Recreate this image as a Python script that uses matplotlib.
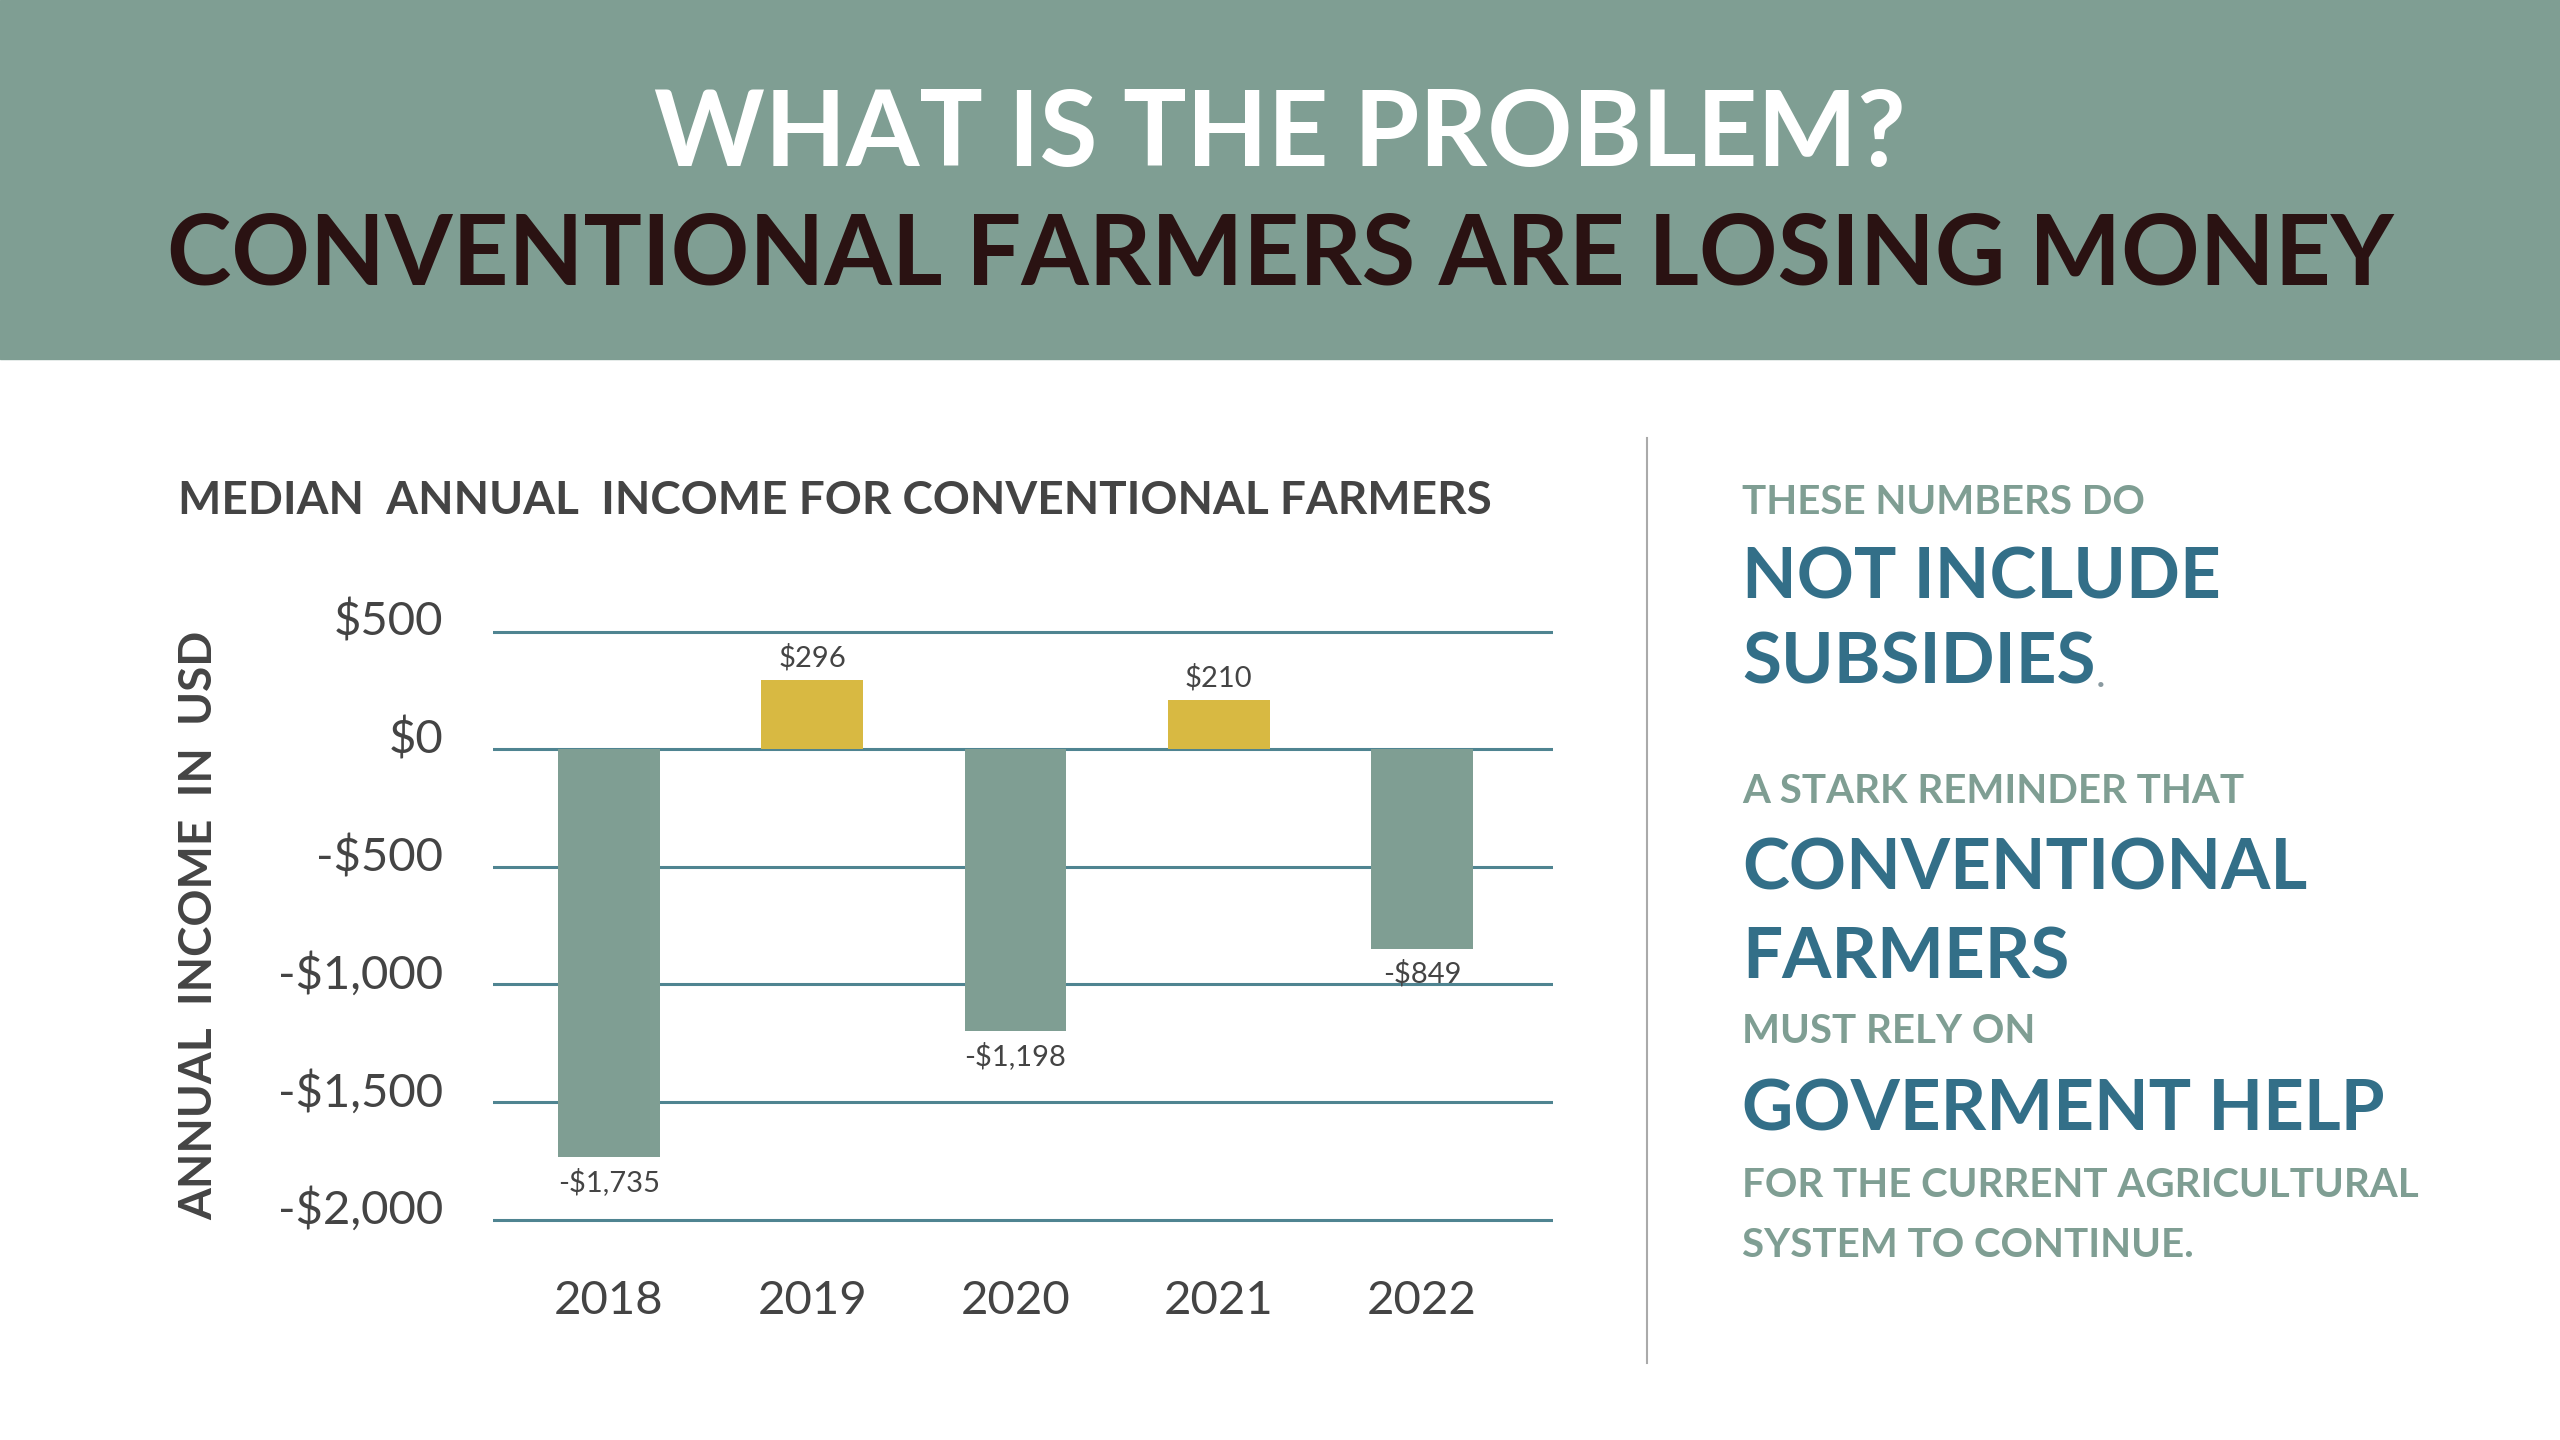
import matplotlib
matplotlib.use("Agg")
import matplotlib.pyplot as plt
import matplotlib.transforms as mtransforms
import numpy as np

years = ["2018", "2019", "2020", "2021", "2022"]
income = [-1735, 296, -1198, 210, -849]
value_labels = ["-$1,735", "$296", "-$1,198", "$210", "-$849"]
yticks = [500, 0, -500, -1000, -1500, -2000]
ytick_labels = ["$500", "$0", "-$500", "-$1,000", "-$1,500", "-$2,000"]

SAGE = "#7f9e93"
GOLD = "#d8b942"
TEAL = "#336f88"
GRID = "#4f8491"
GREY = "#444444"

plt.rcParams['font.family'] = ['Lato', 'DejaVu Sans']

W, H = 1568, 882  # layout measured on the reference at this scale
def fx(x):
    return x / W
def fy(y):
    return 1 - y / H

fig = plt.figure(figsize=(25.6, 14.4), dpi=100)
fig.patch.set_facecolor("white")

# header band
fig.patches.append(plt.Rectangle((0, fy(220)), 1, 220 / H, transform=fig.transFigure,
                                 color=SAGE, zorder=0))
fig.text(0.5, fy(83), "WHAT IS THE PROBLEM?", ha="center", va="center",
         fontsize=76, fontweight="bold", color="white")
fig.text(0.5, fy(157), "CONVENTIONAL FARMERS ARE LOSING MONEY", ha="center", va="center",
         fontsize=70, fontweight="bold", color="#2a1212")

# chart
ylo, yhi = -2080, 560
ax = fig.add_axes([fx(302), fy(459 + 0.144 * -ylo), fx(951) - fx(302), 0.144 * (yhi - ylo) / H])
x = np.arange(len(years))
colors = [GOLD if v > 0 else SAGE for v in income]
ax.bar(x, income, width=0.5, color=colors, zorder=3)
ax.set_xlim(-0.57, 4.643)
ax.set_ylim(ylo, yhi)
for v in yticks:
    ax.axhline(v, color=GRID, lw=2.2, zorder=1)
for i, v in enumerate(income):
    if v > 0:
        ax.annotate(value_labels[i], (i, v), xytext=(0, 6), textcoords="offset points",
                    ha="center", va="bottom", fontsize=21, color=GREY)
    else:
        ax.annotate(value_labels[i], (i, v), xytext=(0, -8), textcoords="offset points",
                    ha="center", va="top", fontsize=21, color=GREY)
ax.set_yticks(yticks)
ax.set_yticklabels(ytick_labels)
ax.set_xticks(x)
ax.set_xticklabels(years)
ax.tick_params(axis="both", length=0, labelsize=34, labelcolor=GREY)
ax.tick_params(axis="y", pad=36)
ax.tick_params(axis="x", pad=30)
shift = mtransforms.ScaledTranslation(0, 10 / 72, fig.dpi_scale_trans)
for lab in ax.get_yticklabels():
    lab.set_transform(lab.get_transform() + shift)
for s in ax.spines.values():
    s.set_visible(False)

fig.text(fx(109), fy(307), "MEDIAN  ANNUAL  INCOME FOR CONVENTIONAL FARMERS", ha="left",
         va="center", fontsize=33, fontweight="bold", color=GREY)
fig.text(fx(122), fy(567), "ANNUAL  INCOME  IN  USD", ha="center",
         va="center", rotation=90, fontsize=33, fontweight="bold", color=GREY)

# divider
fig.add_artist(plt.Line2D([fx(1009), fx(1009)], [fy(268), fy(835)], transform=fig.transFigure,
                          color="#aaaaaa", lw=1.5))

# right-hand text
small = [("THESE NUMBERS DO", 308), ("A STARK REMINDER THAT", 485), ("MUST RELY ON", 632),
         ("FOR THE CURRENT AGRICULTURAL", 726), ("SYSTEM TO CONTINUE.", 763)]
big = [("NOT INCLUDE", 354), ("SUBSIDIES", 406), ("CONVENTIONAL", 532), ("FARMERS", 587),
       ("GOVERMENT HELP", 680)]
for t, y in small:
    fig.text(fx(1067), fy(y), t, ha="left", va="center", fontsize=29, fontweight="bold", color=SAGE)
big_texts = {}
for t, y in big:
    big_texts[t] = fig.text(fx(1067), fy(y), t, ha="left", va="center", fontsize=51,
                            fontweight="bold", color=TEAL)

r = fig.canvas.get_renderer()
bb = big_texts["SUBSIDIES"].get_window_extent(r)
fig.text(bb.x1 / fig.bbox.width, bb.y0 / fig.bbox.height + 0.006, ".", ha="left",
         va="baseline", fontsize=30, color="#8a9aa0")

fig.savefig("out.png", dpi=100)
